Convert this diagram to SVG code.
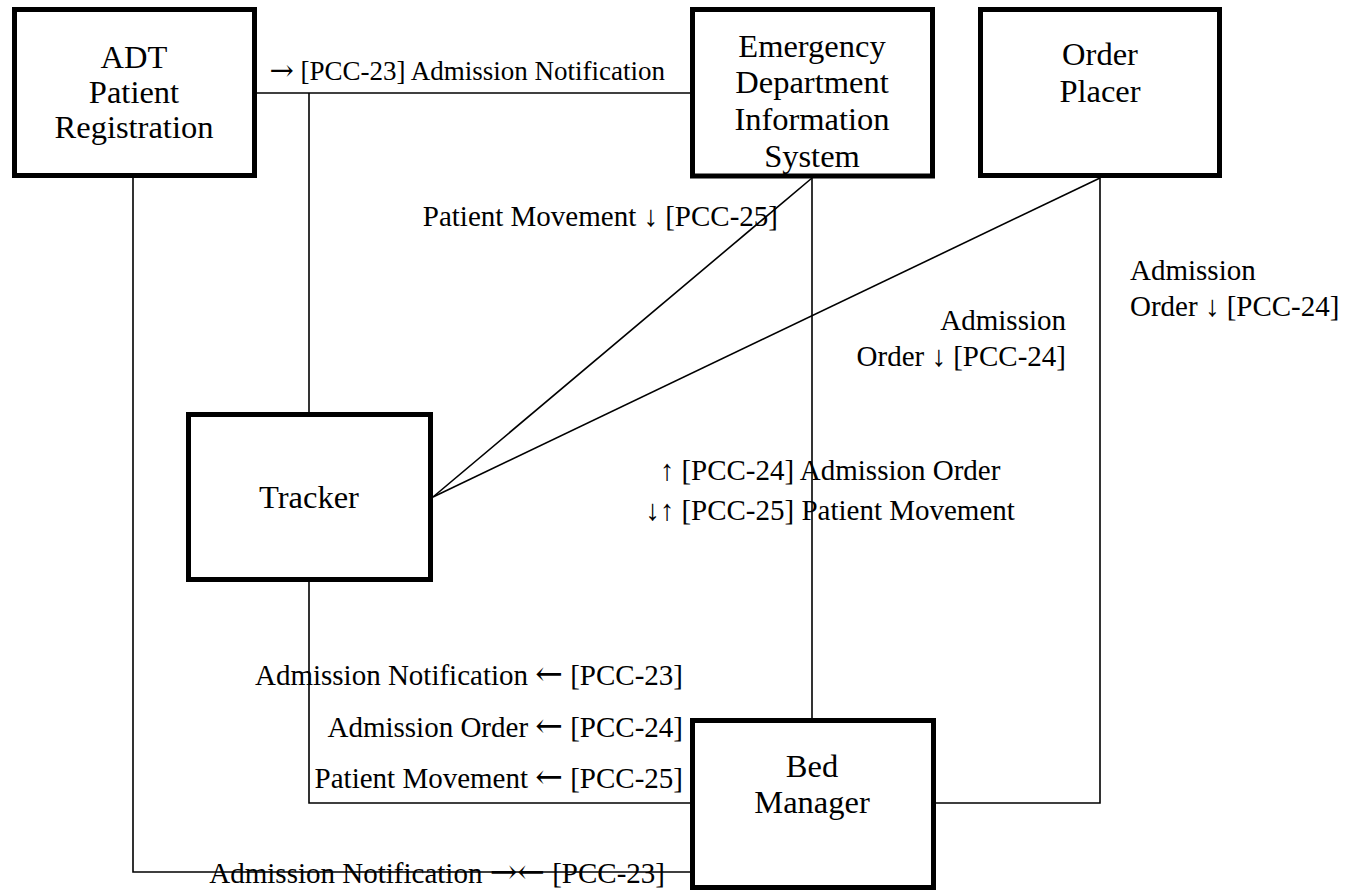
<svg xmlns="http://www.w3.org/2000/svg" width="1358" height="890" viewBox="0 0 1358 890">
<style>
.node rect{fill:#fff;stroke:#000;stroke-width:5}
.node text{font-family:"Liberation Serif","Times New Roman",serif;font-size:32.5px;fill:#000;text-anchor:middle}
.conn{fill:none;stroke:#000;stroke-width:1.6}
.lbl{font-family:"Liberation Serif","Times New Roman",serif;font-size:29px;fill:#000}
.ar{font-family:"DejaVu Serif",serif;font-size:33px}
</style>
<rect width="1358" height="890" fill="#fff"/>
<g id="connectors">
<polyline class="conn" points="257,93 690,93"/>
<polyline class="conn" points="309,93 309,412"/>
<polyline class="conn" points="812,178 433,497"/>
<polyline class="conn" points="1100,178 433,497"/>
<polyline class="conn" points="812,178 812,718"/>
<polyline class="conn" points="1100,178 1100,803 936,803"/>
<polyline class="conn" points="309,582 309,803 690,803"/>
<polyline class="conn" points="133,178 133,872 690,872"/>
</g>
<g id="labels">
<text class="lbl" x="665" y="80" text-anchor="end" style="font-size:27px"><tspan class="ar" style="font-size:29px">→</tspan> [PCC-23] Admission Notification</text>
<text class="lbl" x="778" y="226" text-anchor="end">Patient Movement ↓ [PCC-25]</text>
<text class="lbl" x="1066" y="330" text-anchor="end">Admission</text>
<text class="lbl" x="1066" y="366" text-anchor="end">Order ↓ [PCC-24]</text>
<text class="lbl" x="1130" y="280">Admission</text>
<text class="lbl" x="1130" y="316">Order ↓ [PCC-24]</text>
<text class="lbl" x="830" y="480" text-anchor="middle">↑ [PCC-24] Admission Order</text>
<text class="lbl" x="830" y="520" text-anchor="middle">↓↑ [PCC-25] Patient Movement</text>
<text class="lbl" x="683" y="685" text-anchor="end">Admission Notification <tspan class="ar">←</tspan> [PCC-23]</text>
<text class="lbl" x="683" y="737" text-anchor="end">Admission Order <tspan class="ar">←</tspan> [PCC-24]</text>
<text class="lbl" x="683" y="788" text-anchor="end">Patient Movement <tspan class="ar">←</tspan> [PCC-25]</text>
<text class="lbl" x="665" y="883" text-anchor="end">Admission Notification <tspan class="ar">→←</tspan> [PCC-23]</text>
</g>
<g id="adt" class="node">
<rect x="14.5" y="9.5" width="240" height="166"/>
<text x="134" y="68">ADT</text>
<text x="134" y="103">Patient</text>
<text x="134" y="138">Registration</text>
</g>
<g id="edis" class="node">
<rect x="692.5" y="9.5" width="240" height="166.5"/>
<text x="812" y="57">Emergency</text>
<text x="812" y="93">Department</text>
<text x="812" y="130">Information</text>
<text x="812" y="167">System</text>
</g>
<g id="orderplacer" class="node">
<rect x="980.5" y="9.5" width="239" height="166"/>
<text x="1100" y="65">Order</text>
<text x="1100" y="102">Placer</text>
</g>
<g id="tracker" class="node">
<rect x="188.5" y="414.5" width="242" height="165"/>
<text x="309" y="508">Tracker</text>
</g>
<g id="bedmanager" class="node">
<rect x="692.5" y="720.5" width="241" height="167"/>
<text x="812" y="777">Bed</text>
<text x="812" y="813">Manager</text>
</g>
</svg>
